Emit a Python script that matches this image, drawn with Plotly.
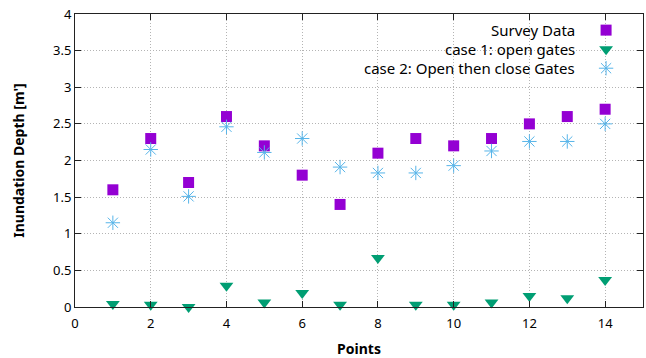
import plotly.graph_objects as go

points = list(range(1, 15))
survey = [1.6, 2.3, 1.7, 2.6, 2.2, 1.8, 1.4, 2.1, 2.3, 2.2, 2.3, 2.5, 2.6, 2.7]
case1 = [0.04, 0.03, 0.0, 0.29, 0.06, 0.19, 0.03, 0.67, 0.03, 0.03, 0.06, 0.15, 0.12, 0.37]
case2 = [1.15, 2.15, 1.51, 2.46, 2.11, 2.3, 1.91, 1.83, 1.83, 1.93, 2.13, 2.26, 2.26, 2.5]
names = ["Survey Data", "case 1: open gates", "case 2: Open then close Gates"]
colors = ["#9400D3", "#009E73", "#56B4E9"]
xticks = [0, 2, 4, 6, 8, 10, 12, 14]
yticks = [0, 0.5, 1, 1.5, 2, 2.5, 3, 3.5, 4]

FONT = "Noto Sans"
markers = [
    dict(symbol="square", size=11, color=colors[0]),
    dict(symbol="triangle-down", size=12, color=colors[1]),
    dict(symbol="asterisk-open", size=12, color=colors[2], line=dict(color=colors[2], width=1)),
]

fig = go.Figure()
for vals, name, mk in zip([survey, case1, case2], names, markers):
    fig.add_trace(go.Scatter(x=points, y=vals, mode="markers", name=name,
                             marker=mk, showlegend=False, cliponaxis=False))

# legend (gnuplot style: right-aligned text, symbol to the right)
leg_y = [0.945, 0.88, 0.815]
for i, (name, mk) in enumerate(zip(names, markers)):
    fig.add_annotation(x=0.882, y=leg_y[i], xref="paper", yref="paper", text=name,
                       showarrow=False, xanchor="right", yanchor="middle", borderpad=0,
                       font=dict(family=FONT, size=15, color="#000000"))
    fig.add_trace(go.Scatter(x=[0.935], y=[leg_y[i]], xaxis="x2", yaxis="y2",
                             mode="markers", marker=mk, showlegend=False,
                             hoverinfo="skip"))

fig.add_shape(type="rect", xref="paper", yref="paper", x0=0.432, x1=1, y0=0.778, y1=1,
              fillcolor="white", line=dict(width=0), layer="between")

axis_common = dict(showline=True, linecolor="#222222", linewidth=1, mirror="ticks",
                   ticks="inside", ticklen=6, tickcolor="#222222", tickwidth=1,
                   showgrid=True, gridcolor="#b4b4b4", griddash="1px,2px", gridwidth=1,
                   zeroline=False, automargin=False,
                   tickfont=dict(family=FONT, size=13, color="#000000"))

fig.update_layout(
    width=646, height=358,
    margin=dict(l=75, r=3, t=14, b=51),
    paper_bgcolor="white", plot_bgcolor="white",
    xaxis=dict(range=[0, 15], tickvals=xticks, ticklabelstandoff=4,
               title=dict(text="<b>Points</b>", standoff=14,
               font=dict(family=FONT, size=14, color="#000000")), **axis_common),
    yaxis=dict(range=[0, 4], tickvals=yticks,
               title=dict(text="<b>Inundation Depth [m']</b>", standoff=25,
               font=dict(family=FONT, size=14, color="#000000")), **axis_common),
    xaxis2=dict(range=[0, 1], overlaying="x", visible=False, fixedrange=True),
    yaxis2=dict(range=[0, 1], overlaying="y", visible=False, fixedrange=True),
)

fig.write_html("out.html", config={"displayModeBar": False},
               post_script="document.body.style.margin='0';")
